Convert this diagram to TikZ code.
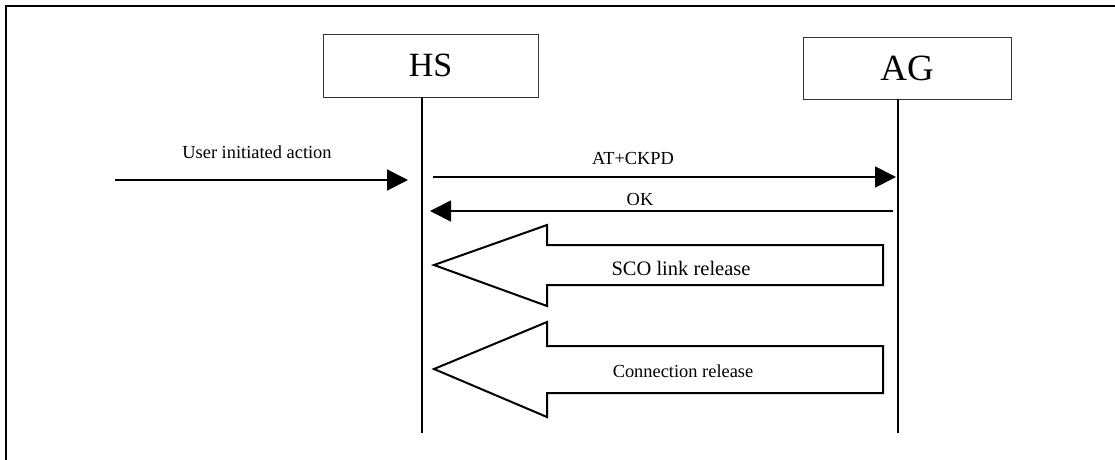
\documentclass[tikz,border=0pt]{standalone}
\usepackage{fontspec}
\setmainfont{Liberation Serif}
\usetikzlibrary{arrows.meta}
\begin{document}
\begin{tikzpicture}[x=1pt,y=-1pt,
  entity/.style={draw=black!80,line width=0.9pt,inner sep=0pt,anchor=center},
  lifeline/.style={line width=1.8pt},
  msg/.style={line width=1.8pt,-{Triangle[length=21pt,width=21pt]}},
  lbl/.style={inner sep=0pt,anchor=center,font=\fontsize{18.4}{22}\selectfont},
  blockarrow/.style={draw,line width=2pt,line join=miter,fill=white}]
\useasboundingbox (0,0) rectangle (1115,459);
% frame
\draw[line width=2.2pt] (6,460) -- (6,6) -- (1116,6);
% entities
\node[entity,minimum width=215pt,minimum height=63pt,font=\fontsize{34}{40}\selectfont] (hs) at (430.5,65.5) {HS};
\node[entity,minimum width=208pt,minimum height=62pt,font=\fontsize{37}{44}\selectfont] (ag) at (907,68) {AG};
% lifelines
\coordinate (hsTop) at (422,97);
\coordinate (hsBot) at (422,433);
\coordinate (agTop) at (898,99);
\coordinate (agBot) at (898,433);
\draw[lifeline] (hsTop) -- (hsBot);
\draw[lifeline] (agTop) -- (agBot);
% user initiated action
\coordinate (uStart) at (115,180);
\coordinate (uEnd) at (408,180);
\draw[msg] (uStart) -- (uEnd);
\node[lbl] (uLbl) at (257,152) {User initiated action};
% AT+CKPD
\coordinate (atStart) at (433,177);
\coordinate (atEnd) at (896,177);
\draw[msg] (atStart) -- (atEnd);
\node[lbl] (atLbl) at (633,158) {AT+CKPD};
% OK
\coordinate (okStart) at (893,211);
\coordinate (okEnd) at (430,211);
\draw[msg] (okStart) -- (okEnd);
\node[lbl] (okLbl) at (640,199) {OK};
% SCO link release
\draw[blockarrow] (434,265) -- (547,225) -- (547,245) -- (883,245) -- (883,285) -- (547,285) -- (547,306) -- cycle;
\node[lbl,font=\fontsize{20.5}{24}\selectfont] (sco) at (681,268) {SCO link release};
% Connection release
\draw[blockarrow] (434,369) -- (547,322) -- (547,346) -- (883,346) -- (883,393) -- (547,393) -- (547,417) -- cycle;
\node[lbl] (conn) at (683,371) {Connection release};
\end{tikzpicture}
\end{document}
